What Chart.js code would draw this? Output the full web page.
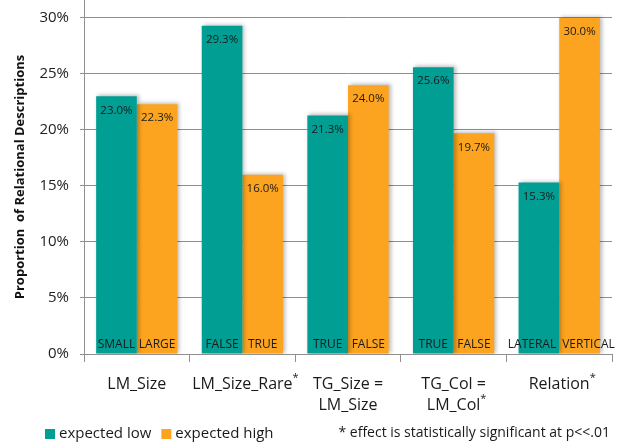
<!DOCTYPE html>
<html>
<head>
<meta charset="utf-8">
<script src="https://cdn.jsdelivr.net/npm/chart.js@4.4.1/dist/chart.umd.min.js"></script>
<style>
  body { margin: 0; background: #fff; }
  #wrap { width: 617px; height: 446px; position: relative; }
</style>
</head>
<body>
<div id="wrap"><canvas id="myChart"></canvas></div>
<script>
// categories (multi-line) and which ones carry the significance star
var categories = [['LM_Size'], ['LM_Size_Rare'], ['TG_Size =', 'LM_Size'], ['TG_Col =', 'LM_Col'], ['Relation']];
var significant = [false, true, false, true, true];

// values in percent
var expectedLow = [23.0, 29.3, 21.3, 25.6, 15.3];
var expectedHigh = [22.3, 16.0, 24.0, 19.7, 30.0];

// level names written at the foot of each bar
var lowLevels = ['SMALL', 'FALSE', 'TRUE', 'TRUE', 'LATERAL'];
var highLevels = ['LARGE', 'TRUE', 'FALSE', 'FALSE', 'VERTICAL'];

var seriesNames = ['expected low', 'expected high'];
var yTicks = [0, 5, 10, 15, 20, 25, 30];
var footnote = '* effect is statistically significant at p<<.01';

var TEAL = '#009e93';
var ORANGE = '#fca41f';
var GRID = '#8f8f8f';
var FONT = '"Open Sans", "DejaVu Sans", sans-serif';

// soft shadow behind the bars
var shadowPlugin = {
  id: 'barShadow',
  beforeDatasetsDraw(chart) {
    var ctx = chart.ctx;
    ctx.save();
    ctx.shadowColor = 'rgba(0,0,0,0.28)';
    ctx.shadowBlur = 4;
    ctx.shadowOffsetX = 2;
    ctx.shadowOffsetY = -1;
  },
  afterDatasetsDraw(chart) {
    chart.ctx.restore();
  }
};

// value labels, level labels, x labels, legend and footnote
var textPlugin = {
  id: 'texts',
  afterDraw(chart) {
    var ctx = chart.ctx;
    var area = chart.chartArea;
    var xs = chart.scales.x;
    var levels = [lowLevels, highLevels];
    ctx.save();
    ctx.fillStyle = '#1a1a1a';
    ctx.textBaseline = 'middle';

    chart.data.datasets.forEach(function (ds, d) {
      chart.getDatasetMeta(d).data.forEach(function (bar, i) {
        ctx.font = '11.5px ' + FONT;
        ctx.textAlign = 'center';
        ctx.fillText(ds.data[i].toFixed(1) + '%', bar.x, bar.y + 14);//value at top
        // level at foot: centred, or pushed away from the neighbour if too wide
        ctx.font = '12px ' + FONT;
        var w = ctx.measureText(levels[d][i]).width;
        var x = bar.x;
        if (w > bar.width - 2) {
          ctx.textAlign = d === 0 ? 'right' : 'left';
          x = d === 0 ? bar.x + bar.width / 2 - 3 : bar.x - bar.width / 2 + 3;
        }
        ctx.fillText(levels[d][i], x, area.bottom - 9);
      });
    });

    // category labels under the axis
    categories.forEach(function (lines, i) {
      var cx = xs.getPixelForValue(i);
      lines.forEach(function (line, k) {
        var y = area.bottom + 30 + k * 21;
        ctx.font = '16px ' + FONT;
        ctx.textAlign = 'center';
        ctx.fillText(line, cx, y);
        if (significant[i] && k === lines.length - 1) {
          var w = ctx.measureText(line).width;
          ctx.font = '11px ' + FONT;
          ctx.textAlign = 'left';
          ctx.fillText('*', cx + w / 2, y - 6);
        }
      });
    });

    // legend
    var lx = 45;
    var ly = 434;
    ctx.textAlign = 'left';
    chart.data.datasets.forEach(function (ds) {
      ctx.fillStyle = ds.backgroundColor;
      ctx.fillRect(lx, ly - 5, 10, 10);
      ctx.fillStyle = '#1a1a1a';
      ctx.font = '15px ' + FONT;
      ctx.fillText(ds.label, lx + 14, ly);
      lx += 14 + ctx.measureText(ds.label).width + 10;
    });

    // footnote
    ctx.font = '14px ' + FONT;
    ctx.textAlign = 'right';
    ctx.fillText(footnote, 610, 433);
    ctx.restore();
  }
};

new Chart('myChart', {
  type: 'bar',
  data: {
    labels: categories,
    datasets: [
      { label: seriesNames[0], data: expectedLow, backgroundColor: TEAL },
      { label: seriesNames[1], data: expectedHigh, backgroundColor: ORANGE }
    ]
  },
  options: {
    responsive: true,
    maintainAspectRatio: false,
    animation: false,
    layout: { padding: { top: 0, right: 5, left: 0, bottom: 0 } },
    datasets: { bar: { categoryPercentage: 0.77, barPercentage: 1.0 } },
    plugins: { legend: { display: false }, tooltip: { enabled: false } },
    scales: {
      x: {
        offset: true,
        ticks: { display: false },
        grid: { offset: true, drawOnChartArea: false, drawTicks: true, tickLength: 8, color: GRID },
        border: { color: GRID },
        afterFit(scale) { scale.height = 92; }
      },
      y: {
        min: 0,
        max: 31.6,//axis runs a little above the top tick
        afterBuildTicks(scale) { scale.ticks = yTicks.map(function (v) { return { value: v }; }); },
        ticks: {
          callback: function (v) { return v + '%'; },
          font: { family: FONT, size: 15 },
          color: '#222',
          padding: 11
        },
        grid: { color: GRID, tickLength: 4 },
        border: { color: GRID },
        title: {
          display: true,
          text: 'Proportion  of Relational Descriptions',
          font: { family: FONT, size: 13, weight: 'bold' },
          color: '#111',
          padding: { top: 12, bottom: 0 }
        },
        afterFit(scale) {
          scale.width = 84;
          scale.paddingTop = 0;//let the axis reach the top edge
          scale.paddingBottom = 0;
        }
      }
    }
  },
  plugins: [shadowPlugin, textPlugin]
});
</script>
</body>
</html>
